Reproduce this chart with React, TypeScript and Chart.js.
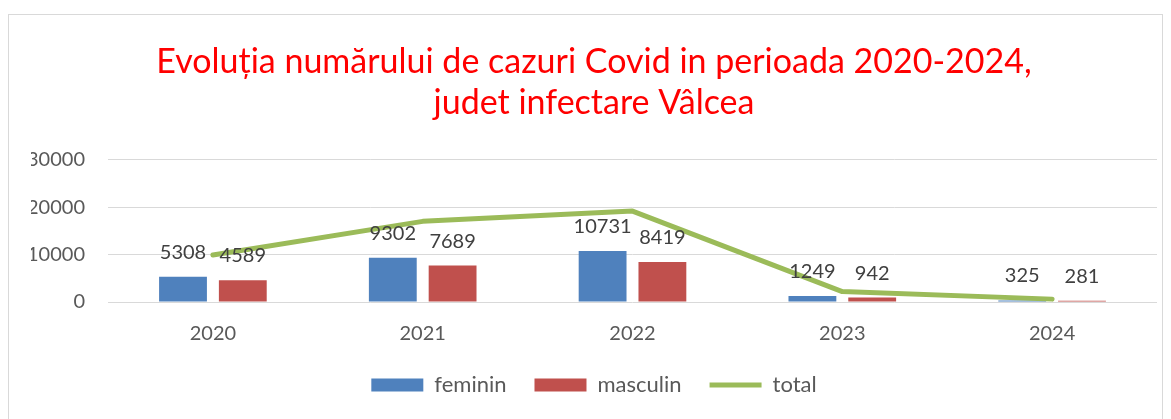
import React, { useEffect, useRef } from "react";
import { Chart, registerables } from "chart.js";

Chart.register(...registerables);

const years = ["2020", "2021", "2022", "2023", "2024"];
const feminin = [5308, 9302, 10731, 1249, 325];
const masculin = [4589, 7689, 8419, 942, 281];
const total = [9897, 16991, 19150, 2191, 606];
const titleLines = [
  "Evoluția numărului de cazuri Covid in perioada 2020-2024,",
  "judet infectare Vâlcea",
];

const FONT = "Lato, 'Noto Sans', sans-serif";

const barLabels = {
  id: "barLabels",
  afterDatasetsDraw(chart: any) {
    const ctx = chart.ctx;
    ctx.save();
    ctx.font = `20px ${FONT}`;
    ctx.fillStyle = "#404040";
    ctx.textAlign = "center";
    ctx.textBaseline = "alphabetic";
    chart.data.datasets.forEach((ds: any, i: number) => {
      if (ds.type !== "bar") return;
      const meta = chart.getDatasetMeta(i);
      meta.data.forEach((el: any, j: number) => {
        ctx.fillText(String(ds.data[j]), el.x, el.y - 18);
      });
    });
    ctx.restore();
  },
};

export default function App() {
  const ref = useRef<HTMLCanvasElement>(null);
  useEffect(() => {
    const chart = new Chart(ref.current!, {
      type: "bar",
      data: {
        labels: years,
        datasets: [
          {
            type: "bar",
            label: "feminin",
            data: feminin,
            backgroundColor: "#4F81BD",
            borderWidth: 0,
            categoryPercentage: 0.57,
            barPercentage: 0.8,
            pointStyle: "rect",
            order: 1,
          } as any,
          {
            type: "bar",
            label: "masculin",
            data: masculin,
            backgroundColor: "#C0504D",
            borderWidth: 0,
            categoryPercentage: 0.57,
            barPercentage: 0.8,
            pointStyle: "rect",
            order: 1,
          } as any,
          {
            type: "line",
            label: "total",
            data: total,
            borderColor: "#9BBB59",
            backgroundColor: "#9BBB59",
            borderWidth: 5,
            borderCapStyle: "round",
            borderJoinStyle: "round",
            pointRadius: 0,
            pointStyle: "line",
            tension: 0,
            order: 0,
          } as any,
        ],
      },
      options: {
        animation: false,
        responsive: false,
        maintainAspectRatio: false,
        layout: { padding: { top: 0, left: 22, right: 5, bottom: 9 } },
        plugins: {
          tooltip: { enabled: false },
          title: {
            display: true,
            text: titleLines,
            color: "#FF0000",
            font: { family: FONT, size: 34, weight: "normal", lineHeight: 1.2 },
            padding: { top: 27, bottom: 36 },
          },
          legend: {
            position: "bottom",
            labels: {
              usePointStyle: true,
              pointStyleWidth: 52,
              boxHeight: 13,
              padding: 28,
              color: "#595959",
              font: { family: FONT, size: 22 },
              sort: (a: any, b: any) => a.datasetIndex - b.datasetIndex,
            },
          },
        },
        scales: {
          x: {
            afterFit: (s: any) => {
              s.height = 44;
            },
            grid: { display: false },
            border: { display: false },
            ticks: {
              color: "#595959",
              font: { family: FONT, size: 20 },
              padding: 12,
            },
          },
          y: {
            min: 0,
            max: 30000,
            afterFit: (s: any) => {
              s.width = 77;
            },
            grid: { color: "#D9D9D9", lineWidth: 1, drawTicks: false },
            border: { display: false },
            ticks: {
              stepSize: 10000,
              color: "#595959",
              font: { family: FONT, size: 20 },
              padding: 23,
              callback: (v: any) => String(v),
            },
          },
        },
      },
      plugins: [barLabels],
    });
    return () => chart.destroy();
  }, []);
  return (
    <div
      style={{
        marginTop: 6,
        width: 1155,
        height: 420,
        boxSizing: "border-box",
        border: "1px solid #D9D9D9",
        background: "#fff",
      }}
    >
      <canvas ref={ref} width={1153} height={400} style={{ display: "block" }} />
    </div>
  );
}
